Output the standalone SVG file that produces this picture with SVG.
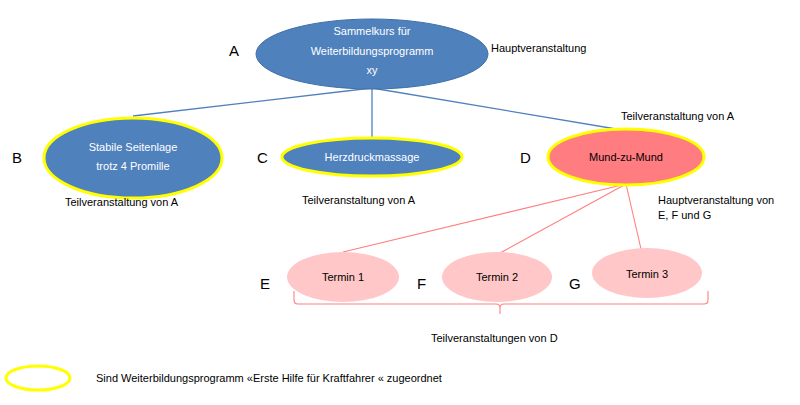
<svg xmlns="http://www.w3.org/2000/svg" width="800" height="405" viewBox="0 0 800 405">
<style>
text{font-family:"Liberation Sans","DejaVu Sans",sans-serif;font-size:11px;fill:#000}
.w{fill:#fff;text-anchor:middle}
.m{text-anchor:middle}
.L{font-size:15px}
.blue{fill:#4f81bd;stroke:#3f6ea8;stroke-width:1}
.yb{stroke:#ffff00;stroke-width:3}
.pink{fill:#ffc7c7}
.cb{stroke:#4f81bd;stroke-width:1.3;fill:none}
.cp{stroke:#ff8080;stroke-width:1.1;fill:none}
</style>
<rect width="800" height="405" fill="#fff"/>
<g id="connectors">
<line class="cb" x1="372" y1="88" x2="133" y2="116"/>
<line class="cb" x1="372" y1="88" x2="372" y2="138"/>
<line class="cb" x1="372" y1="88" x2="628" y2="131"/>
<line class="cp" x1="626" y1="184" x2="343" y2="252"/>
<line class="cp" x1="626" y1="184" x2="500" y2="253"/>
<line class="cp" x1="626" y1="184" x2="641" y2="249"/>
<path class="cp" d="M294 291 V300 Q294 304 298 304 H496 Q500 304 500 308 V314 M500 308 Q500 304 504 304 H704 Q708 304 708 300 V291"/>
</g>
<g id="A"><ellipse class="blue" cx="372" cy="54" rx="116" ry="35"/>
<text class="w" x="372" y="35">Sammelkurs für</text><text class="w" x="372" y="55">Weiterbildungsprogramm</text><text class="w" x="372" y="74">xy</text>
<text class="L" x="229" y="56">A</text><text x="491" y="52">Hauptveranstaltung</text></g>
<g id="B"><ellipse class="blue yb" cx="133" cy="158" rx="89" ry="40"/>
<text class="w" x="133" y="151">Stabile Seitenlage</text><text class="w" x="133" y="170">trotz 4 Promille</text>
<text class="L" x="12" y="163">B</text><text x="65" y="206">Teilveranstaltung von A</text></g>
<g id="C"><ellipse class="blue yb" cx="372" cy="157" rx="90" ry="19"/>
<text class="w" x="372" y="161">Herzdruckmassage</text>
<text class="L" x="257" y="163">C</text><text x="302" y="204">Teilveranstaltung von A</text></g>
<g id="D"><ellipse fill="#ff7c80" class="yb" cx="626" cy="157" rx="78" ry="28"/>
<text class="m" x="626" y="161">Mund-zu-Mund</text>
<text class="L" x="520" y="163">D</text><text x="621" y="120">Teilveranstaltung von A</text>
<text x="658" y="204">Hauptveranstaltung von</text><text x="658" y="219">E, F und G</text></g>
<g id="E"><ellipse class="pink" cx="343" cy="277" rx="56" ry="25"/><text class="m" x="343" y="281">Termin 1</text><text class="L" x="260" y="289">E</text></g>
<g id="F"><ellipse class="pink" cx="497" cy="277" rx="55" ry="25"/><text class="m" x="497" y="281">Termin 2</text><text class="L" x="417" y="289">F</text></g>
<g id="G"><ellipse class="pink" cx="647" cy="273" rx="55" ry="25"/><text class="m" x="647" y="278">Termin 3</text><text class="L" x="569" y="289">G</text></g>
<text x="431" y="342">Teilveranstaltungen von D</text>
<g id="legend"><ellipse fill="none" stroke="#ffff00" stroke-width="3" cx="38" cy="378" rx="32" ry="12"/>
<text x="96" y="382">Sind Weiterbildungsprogramm «Erste Hilfe für Kraftfahrer « zugeordnet</text></g>
</svg>
